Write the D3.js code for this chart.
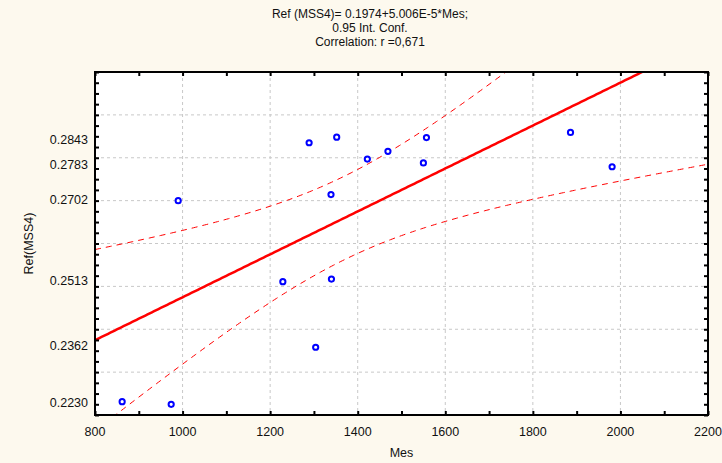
<!DOCTYPE html>
<html>
<head>
<meta charset="utf-8">
<script src="https://cdn.jsdelivr.net/npm/d3@7"></script>
<style>
  body { margin: 0; background: #fdf9ee; }
  svg text { font-family: "Liberation Sans", Arial, sans-serif; fill: #111; }
</style>
</head>
<body>
<div id="chart"></div>
<script>
// data
const mes = [862, 974, 990, 1229, 1289, 1304, 1339, 1340, 1352, 1422, 1469, 1550, 1557, 1886, 1981];
const ref = [0.2231, 0.2225, 0.2700, 0.2511, 0.2835, 0.2358, 0.2714, 0.2517, 0.2848, 0.2797, 0.2815, 0.2788, 0.2847, 0.2859, 0.2779];
const yLabels = [0.2843, 0.2783, 0.2702, 0.2513, 0.2362, 0.2230];
const xLabels = [800, 1000, 1200, 1400, 1600, 1800, 2000, 2200];
const yGrid = [0.23, 0.24, 0.25, 0.26, 0.27, 0.28, 0.29];
const xGrid = [1000, 1200, 1400, 1600, 1800, 2000];
const fitA = 0.1974, fitB = 5.006e-5; // from the title
const tCrit = 2.1604; // t(0.975, df = 13)

const W = 722, H = 463;
const margin = {top: 72, right: 14, bottom: 48, left: 95},
  width = W - margin.left - margin.right,
  height = H - margin.top - margin.bottom;

const svg = d3.select("#chart").append("svg")
  .attr("width", W).attr("height", H);

svg.append("rect").attr("width", W).attr("height", H).attr("fill", "#fdf9ee");

// titles
const titles = ["Ref (MSS4)= 0.1974+5.006E-5*Mes;", "0.95 Int. Conf.", "Correlation: r =0,671"];
svg.selectAll(".ttl").data(titles).enter().append("text")
  .attr("class", "ttl")
  .attr("x", 370).attr("y", (d, i) => 18 + i * 14)
  .attr("text-anchor", "middle")
  .style("font-size", "12px")
  .text(d => d);

const g = svg.append("g").attr("transform", `translate(${margin.left},${margin.top})`);

const x = d3.scaleLinear().domain([800, 2200]).range([0, width]);
const y = d3.scaleLinear().domain([0.22, 0.30]).range([height, 0]);

g.append("rect").attr("width", width).attr("height", height).attr("fill", "white");

// grid
g.selectAll(".gx").data(xGrid).enter().append("line")
  .attr("x1", d => x(d)).attr("x2", d => x(d)).attr("y1", 0).attr("y2", height)
  .attr("stroke", "#c8c8c8").attr("stroke-dasharray", "3,3");
g.selectAll(".gy").data(yGrid).enter().append("line")
  .attr("y1", d => y(d)).attr("y2", d => y(d)).attr("x1", 0).attr("x2", width)
  .attr("stroke", "#c8c8c8").attr("stroke-dasharray", "3,3");

// fit + confidence band
const n = mes.length;
const xm = d3.mean(mes);
const sxx = d3.sum(mes, v => (v - xm) * (v - xm));
const sse = d3.sum(mes, (v, i) => Math.pow(ref[i] - (fitA + fitB * v), 2));
const s = Math.sqrt(sse / (n - 2));
const xs = d3.range(800, 2201, 5);
const band = xs.map(v => {
  const yh = fitA + fitB * v;
  const hw = tCrit * s * Math.sqrt(1 / n + (v - xm) * (v - xm) / sxx);
  return {x: v, fit: yh, lo: yh - hw, hi: yh + hw};
});

g.append("clipPath").attr("id", "clip").append("rect").attr("width", width).attr("height", height);
const lines = g.append("g").attr("clip-path", "url(#clip)");
const mk = key => d3.line().x(d => x(d.x)).y(d => y(d[key]));
lines.append("path").datum(band).attr("d", mk("hi"))
  .attr("fill", "none").attr("stroke", "#ff0000").attr("stroke-width", 1).attr("stroke-dasharray", "6,5");
lines.append("path").datum(band).attr("d", mk("lo"))
  .attr("fill", "none").attr("stroke", "#ff0000").attr("stroke-width", 1).attr("stroke-dasharray", "6,5");
lines.append("path").datum(band).attr("d", mk("fit"))
  .attr("fill", "none").attr("stroke", "#ff0000").attr("stroke-width", 2.5);

// points
g.selectAll(".pt").data(mes).enter().append("circle")
  .attr("cx", d => x(d)).attr("cy", (d, i) => y(ref[i]))
  .attr("r", 2.6)
  .attr("fill", "white").attr("stroke", "#0000ff").attr("stroke-width", 2);

// axes: inward ticks on all four sides
const ax = g.append("g");
ax.append("g").attr("transform", `translate(0,${height})`)
  .call(d3.axisBottom(x).tickValues(d3.range(800, 2201, 100)).tickSizeInner(-4).tickSizeOuter(0).tickFormat(""));
ax.append("g")
  .call(d3.axisTop(x).tickValues(d3.range(800, 2201, 100)).tickSizeInner(-4).tickSizeOuter(0).tickFormat(""));
ax.append("g")
  .call(d3.axisLeft(y).tickValues(d3.range(0.22, 0.30001, 0.0025)).tickSizeInner(-4).tickSizeOuter(0).tickFormat(""));
ax.append("g").attr("transform", `translate(${width},0)`)
  .call(d3.axisRight(y).tickValues(d3.range(0.22, 0.30001, 0.0025)).tickSizeInner(-4).tickSizeOuter(0).tickFormat(""));
ax.selectAll("line").attr("stroke", "black").attr("stroke-width", 2);
ax.selectAll(".domain").remove();

g.append("rect").attr("width", width).attr("height", height)
  .attr("fill", "none").attr("stroke", "black").attr("stroke-width", 2);

// tick labels
g.selectAll(".xl").data(xLabels).enter().append("text")
  .attr("x", d => x(d)).attr("y", height + 21)
  .attr("text-anchor", "middle").style("font-size", "12.5px")
  .text(d => d);
g.selectAll(".yl").data(yLabels).enter().append("text")
  .attr("x", -7).attr("y", d => y(d)).attr("dy", "0.35em")
  .attr("text-anchor", "end").style("font-size", "12.5px")
  .text(d => d.toFixed(4));

g.append("text").attr("x", width / 2).attr("y", height + 42)
  .attr("text-anchor", "middle").style("font-size", "12.5px").text("Mes");
g.append("text").attr("transform", `translate(${-62},${height / 2}) rotate(-90)`)
  .attr("text-anchor", "middle").style("font-size", "12.5px").text("Ref(MSS4)");
</script>
</body>
</html>
